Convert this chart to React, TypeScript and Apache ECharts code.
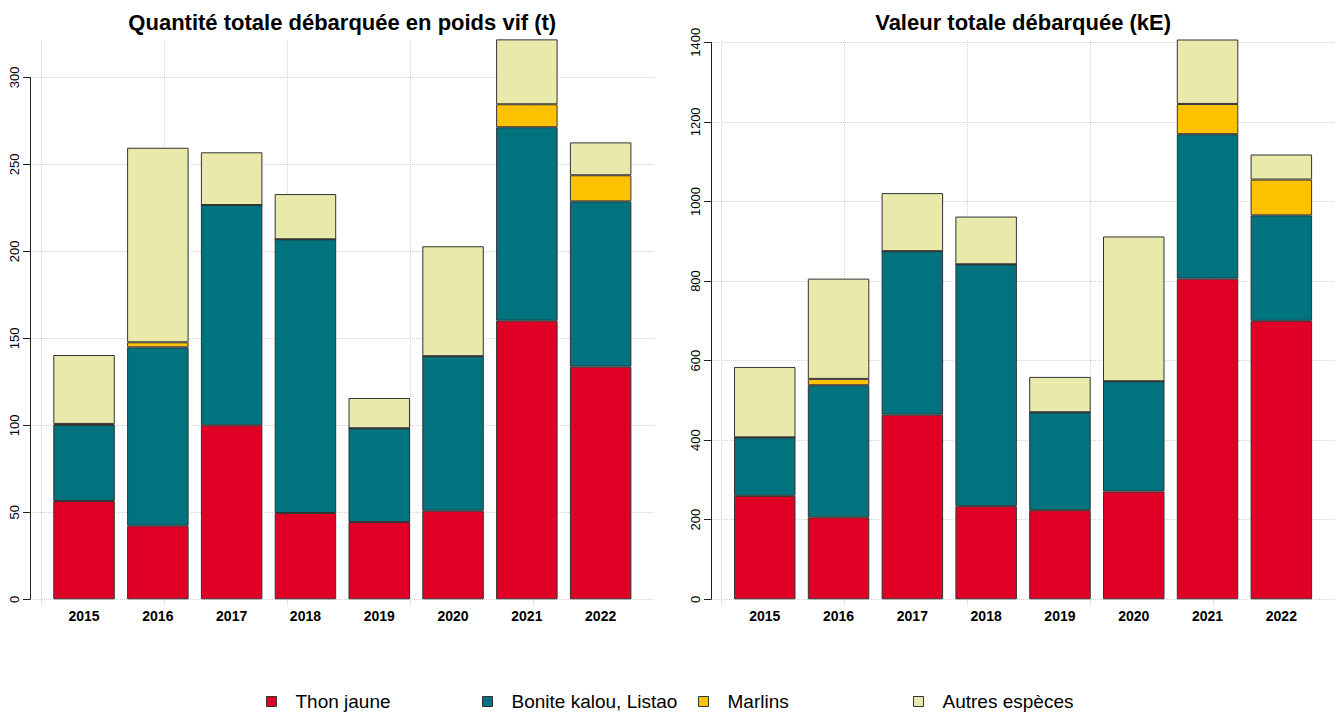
import React, { useEffect, useRef } from "react";
import * as echarts from "echarts";

// ---------- DATA ----------
const years = ["2015", "2016", "2017", "2018", "2019", "2020", "2021", "2022"];
const seriesNames = ["Thon jaune", "Bonite kalou, Listao", "Marlins", "Autres espèces"];
const colors = ["#E00025", "#00737F", "#FCC200", "#E8E9AA"];

// Quantité totale débarquée en poids vif (t)
const qtyThon = [56.5, 42.3, 100, 49.6, 44.4, 50.9, 160.1, 133.7];
const qtyBonite = [43.7, 102.5, 126.6, 157.3, 53.9, 88.8, 111.2, 95.0];
const qtyMarlins = [0.6, 2.9, 0, 0, 0, 0, 13.2, 15.0];
const qtyAutres = [39.6, 111.8, 30.3, 26.0, 17.4, 63.2, 37.3, 18.9];

// Valeur totale débarquée (kE)
const valThon = [260, 206, 464, 234, 224, 271, 806, 700];
const valBonite = [147, 332, 411, 608, 246, 277, 363, 265];
const valMarlins = [0, 16, 0, 0, 0, 0, 76, 90];
const valAutres = [177, 252, 146, 120, 89, 364, 162, 63];

const qtyTickMax = 300;
const qtyTickStep = 50;
const valTickMax = 1400;
const valTickStep = 200;

const titleLeft = "Quantité totale débarquée en poids vif (t)";
const titleRight = "Valeur totale débarquée (kE)";

// ---------- LAYOUT ----------
const FONT = "'Liberation Sans', Arial, Helvetica, sans-serif";
const BOTTOM = 599.3;
const UNIT = 61.5;

type PanelCfg = {
  axisX: number;
  user0: number;
  tickTopPx: number;
  tickMax: number;
  tickStep: number;
  barMax: number;
  data: number[][];
  title: string;
};

const panels: PanelCfg[] = [
  {
    axisX: 30,
    user0: 41,
    tickTopPx: 77.3,
    tickMax: qtyTickMax,
    tickStep: qtyTickStep,
    barMax: 322,
    data: [qtyThon, qtyBonite, qtyMarlins, qtyAutres],
    title: titleLeft,
  },
  {
    axisX: 711,
    user0: 721.7,
    tickTopPx: 42.3,
    tickMax: valTickMax,
    tickStep: valTickStep,
    barMax: 1408,
    data: [valThon, valBonite, valMarlins, valAutres],
    title: titleRight,
  },
];

function buildOption() {
  const grid: any[] = [];
  const xAxis: any[] = [];
  const yAxis: any[] = [];
  const series: any[] = [];
  const graphic: any[] = [];

  panels.forEach((p, pi) => {
    const s = (BOTTOM - p.tickTopPx) / p.tickMax;
    const barTop = BOTTOM - p.barMax * s;
    const plotRight = p.user0 + 9.976 * UNIT;
    const base = pi * 3;

    // Grid A: y axis + horizontal grid lines
    grid.push({ left: p.axisX, top: p.tickTopPx, width: plotRight - p.axisX, height: BOTTOM - p.tickTopPx });
    // Grid B: vertical grid lines
    grid.push({ left: p.user0, top: 40, width: 10 * UNIT, height: 605 - 40 });
    // Grid C: bars
    grid.push({ left: p.user0 + 0.1 * UNIT, top: barTop, width: 9.6 * UNIT, height: BOTTOM - barTop });

    xAxis.push({ type: "value", gridIndex: base, min: 0, max: 1, show: false });
    yAxis.push({
      type: "value",
      gridIndex: base,
      min: 0,
      max: p.tickMax,
      interval: p.tickStep,
      axisLine: { show: true, lineStyle: { color: "#222", width: 1 } },
      axisTick: { show: true, length: 7, lineStyle: { color: "#222", width: 1 } },
      axisLabel: {
        rotate: 90,
        fontSize: 13,
        color: "#000",
        fontFamily: FONT,
        margin: 9,
        formatter: (v: number) => String(v),
      },
      splitLine: { show: true, lineStyle: { color: "#d3d3d3", type: "dotted", width: 1 } },
    });

    xAxis.push({
      type: "value",
      gridIndex: base + 1,
      min: 0,
      max: 10,
      interval: 2,
      axisLine: { show: false },
      axisTick: { show: false },
      axisLabel: { show: false },
      splitLine: { show: true, showMaxLine: false, lineStyle: { color: "#d3d3d3", type: "dotted", width: 1 } },
    });
    yAxis.push({ type: "value", gridIndex: base + 1, min: 0, max: 1, show: false, splitLine: { show: false } });

    xAxis.push({
      type: "category",
      gridIndex: base + 2,
      data: years,
      boundaryGap: true,
      axisLine: { show: false },
      axisTick: { show: false },
      axisLabel: { fontSize: 14, fontWeight: "bold", color: "#000", fontFamily: FONT, margin: 10 },
      splitLine: { show: false },
    });
    yAxis.push({ type: "value", gridIndex: base + 2, min: 0, max: p.barMax, show: false, splitLine: { show: false } });

    seriesNames.forEach((name, i) => {
      series.push({
        type: "bar",
        name,
        stack: "panel" + pi,
        xAxisIndex: base + 2,
        yAxisIndex: base + 2,
        data: p.data[i],
        barWidth: "83.33%",
        itemStyle: { color: colors[i], borderColor: "#333", borderWidth: 1 },
        emphasis: { disabled: true },
      });
    });

    graphic.push({
      type: "text",
      x: (p.axisX + plotRight) / 2,
      y: 22,
      style: {
        text: p.title,
        font: `bold 22px ${FONT}`,
        fill: "#000",
        textAlign: "center",
        textVerticalAlign: "middle",
      },
    });
  });

  const legendLefts = [266, 482, 698, 913];
  const legend = seriesNames.map((n, i) => ({
    data: [n],
    left: legendLefts[i],
    top: 692,
    padding: 0,
    orient: "horizontal",
    itemWidth: 10,
    itemHeight: 10,
    icon: "rect",
    selectedMode: false,
    itemStyle: { borderColor: "#333", borderWidth: 1 },
    textStyle: { fontSize: 19, color: "#000", fontFamily: FONT, padding: [0, 0, 0, 14] },
  }));

  return {
    animation: false,
    backgroundColor: "#ffffff",
    textStyle: { fontFamily: FONT },
    grid,
    xAxis,
    yAxis,
    series,
    legend,
    graphic,
  };
}

export default function App() {
  const ref = useRef<HTMLDivElement>(null);
  useEffect(() => {
    if (!ref.current) return;
    const chart = echarts.init(ref.current, null, { renderer: "svg" });
    chart.setOption(buildOption() as any);
    return () => chart.dispose();
  }, []);
  return (
    <div
      ref={ref}
      style={{ position: "absolute", left: 0, top: 0, width: 1341, height: 713, background: "#fff" }}
    />
  );
}
